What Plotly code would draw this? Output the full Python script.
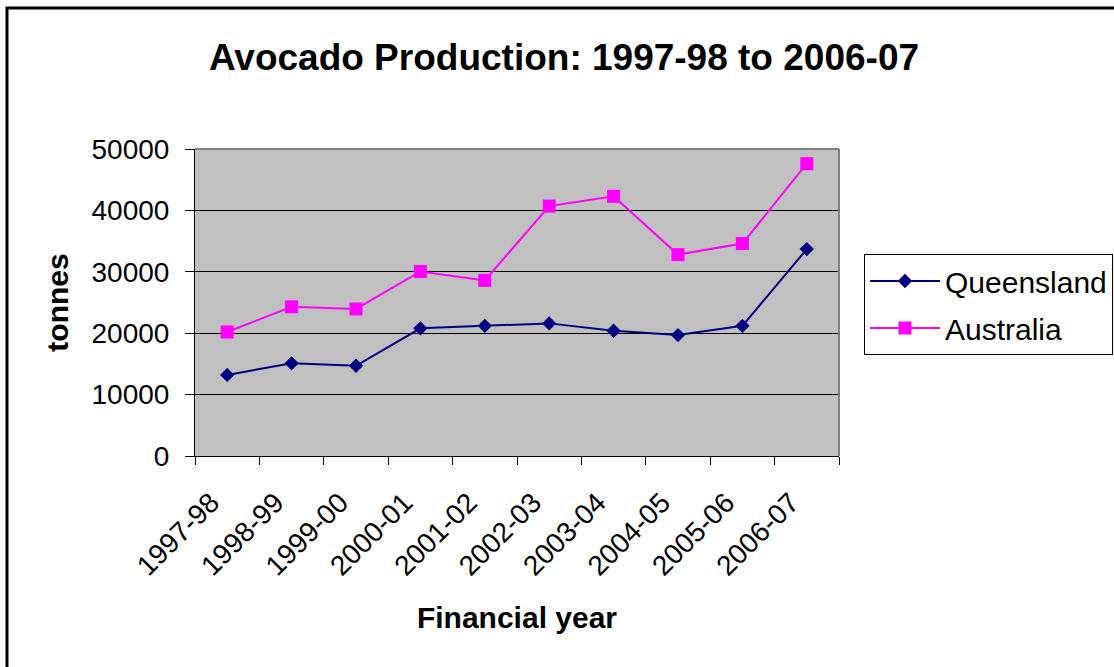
import plotly.graph_objects as go

years = ["1997-98", "1998-99", "1999-00", "2000-01", "2001-02",
         "2002-03", "2003-04", "2004-05", "2005-06", "2006-07"]
queensland = [13200, 15100, 14700, 20800, 21200, 21600, 20400, 19700, 21200, 33700]
australia = [20200, 24300, 23950, 30050, 28600, 40700, 42300, 32800, 34600, 47600]
y_ticks = [0, 10000, 20000, 30000, 40000, 50000]
y_tick_text = [str(v) for v in y_ticks]

FONT = "Liberation Sans, Arial, sans-serif"
W, H = 1114, 667
L, R, T, B = 195, 839, 149, 456

fig = go.Figure()
fig.add_trace(go.Scatter(
    x=years, y=queensland, name="Queensland", mode="lines+markers",
    line=dict(color="#000080", width=2),
    marker=dict(symbol="diamond", size=11, color="#000080"),
    legendgroup="q",
))
fig.add_trace(go.Scatter(
    x=years, y=australia, name="Australia", mode="lines+markers",
    line=dict(color="#FF00FF", width=2),
    marker=dict(symbol="square", size=13, color="#FF00FF"),
    legendgroup="a",
))

def px_x(p):
    return (p - L) / (R - L)

def px_y(p):
    return (B - p) / (B - T)

fig.update_layout(
    width=W, height=H,
    margin=dict(l=L, r=W - R, t=T, b=H - B, pad=0, autoexpand=False),
    paper_bgcolor="white",
    plot_bgcolor="#C0C0C0",
    font=dict(family=FONT, color="black", size=28),
    title=dict(
        text="<b>Avocado Production: 1997-98 to 2006-07</b>",
        font=dict(size=37, family=FONT, color="black"),
        x=564 / W, xanchor="center", xref="container",
        y=1 - 57 / H, yanchor="middle", yref="container",
    ),
    showlegend=True,
    legend=dict(
        xref="container", yref="container",
        x=864 / W, xanchor="left", y=1 - 254 / H, yanchor="top",
        bordercolor="black", borderwidth=1, bgcolor="white",
        font=dict(size=30, family=FONT, color="black"),
        itemwidth=70, tracegroupgap=5,
    ),
    xaxis=dict(
        type="category", range=[-0.5, 9.5], tickson="boundaries",
        ticks="outside", ticklen=8, tickcolor="black", tickwidth=1,
        showline=True, linecolor="black", linewidth=1,
        showgrid=False, tickangle=-45, tickfont=dict(size=28),
        ticklabelstandoff=18, ticklabelshift=-16,
        title=dict(text="<b>Financial year</b>", font=dict(size=30), standoff=26),
    ),
    yaxis=dict(
        range=[0, 50000], tickvals=y_ticks, ticktext=y_tick_text,
        ticks="outside", ticklen=9, tickcolor="black", tickwidth=1,
        showline=True, linecolor="black", linewidth=1,
        showgrid=True, gridcolor="black", gridwidth=1,
        zeroline=False, tickfont=dict(size=28),
        ticklabelstandoff=10,
        title=dict(text="<b>tonnes</b>", font=dict(size=30), standoff=14),
    ),
    shapes=[
        dict(type="line", xref="paper", yref="paper", x0=0, x1=1, y0=1, y1=1,
             line=dict(color="#808080", width=2), layer="above"),
        dict(type="line", xref="paper", yref="paper", x0=1, x1=1, y0=0, y1=1,
             line=dict(color="#808080", width=2), layer="above"),
        dict(type="rect", xref="paper", yref="paper",
             x0=px_x(7), x1=px_x(1125), y0=px_y(680), y1=px_y(8),
             line=dict(color="black", width=3), layer="above"),
    ],
)

fig.write_html("out.html")
